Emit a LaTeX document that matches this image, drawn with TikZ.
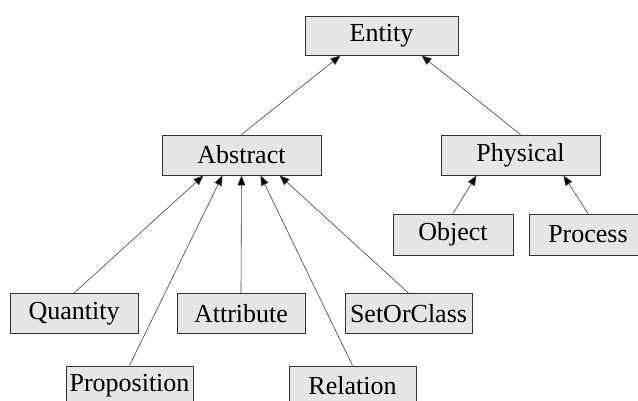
\documentclass[tikz,border=0pt]{standalone}
\usepackage{fontspec}
\setmainfont{Liberation Serif}
\usepackage{xcolor}
\usepackage{tikz}
\usetikzlibrary{arrows.meta, positioning}
\definecolor{boxfill}{HTML}{E6E6E6}
\definecolor{boxline}{HTML}{333333}
\tikzstyle{concept} = [rectangle, minimum width=128pt, minimum height=40pt, inner sep=0pt, text centered, draw=boxline, line width=0.9pt, fill=boxfill, font=\fontsize{26}{30}\selectfont]
\tikzstyle{isa} = [draw=black!75, line width=0.6pt, -{Triangle[length=10pt,width=8pt,fill=black]}]

\begin{document}
\begin{tikzpicture}[x=1pt, y=1pt]
  \useasboundingbox (0,0) rectangle (638,400);
  \node (entity) [concept, minimum width=153pt, minimum height=39pt] at (381.5,364.5) {Entity};
  \node (abstract) [concept, minimum width=159pt] at (241.5,245) {Abstract};
  \node (physical) [concept, minimum width=159pt] at (520.5,245) {Physical};
  \node (object) [concept, minimum width=120pt, minimum height=41pt] at (453,165.5) {Object};
  \node (process) [concept, minimum width=118pt, minimum height=41pt] at (588,165.5) {Process};
  \node (quantity) [concept] at (74,86.5) {Quantity};
  \node (attribute) [concept] at (241,86.5) {Attribute};
  \node (setorclass) [concept, minimum width=127pt] at (408.5,86.5) {SetOrClass};
  \node (proposition) [concept, minimum width=127pt] at (129.5,14) {Proposition};
  \node (relation) [concept, minimum width=127pt] at (352.5,14) {Relation};

  \draw[isa] (abstract.north) -- ([xshift=-41pt]entity.south);
  \draw[isa] (physical.north) -- ([xshift=40pt]entity.south);
  \draw[isa] (object.north) -- ([xshift=-44pt]physical.south);
  \draw[isa] (process.north) -- ([xshift=43pt]physical.south);
  \draw[isa] (quantity.north) -- ([xshift=-38pt]abstract.south);
  \draw[isa] (proposition.north) -- ([xshift=-19pt]abstract.south);
  \draw[isa] (attribute.north) -- (abstract.south);
  \draw[isa] (relation.north) -- ([xshift=19pt]abstract.south);
  \draw[isa] (setorclass.north) -- ([xshift=38pt]abstract.south);
\end{tikzpicture}
\end{document}
